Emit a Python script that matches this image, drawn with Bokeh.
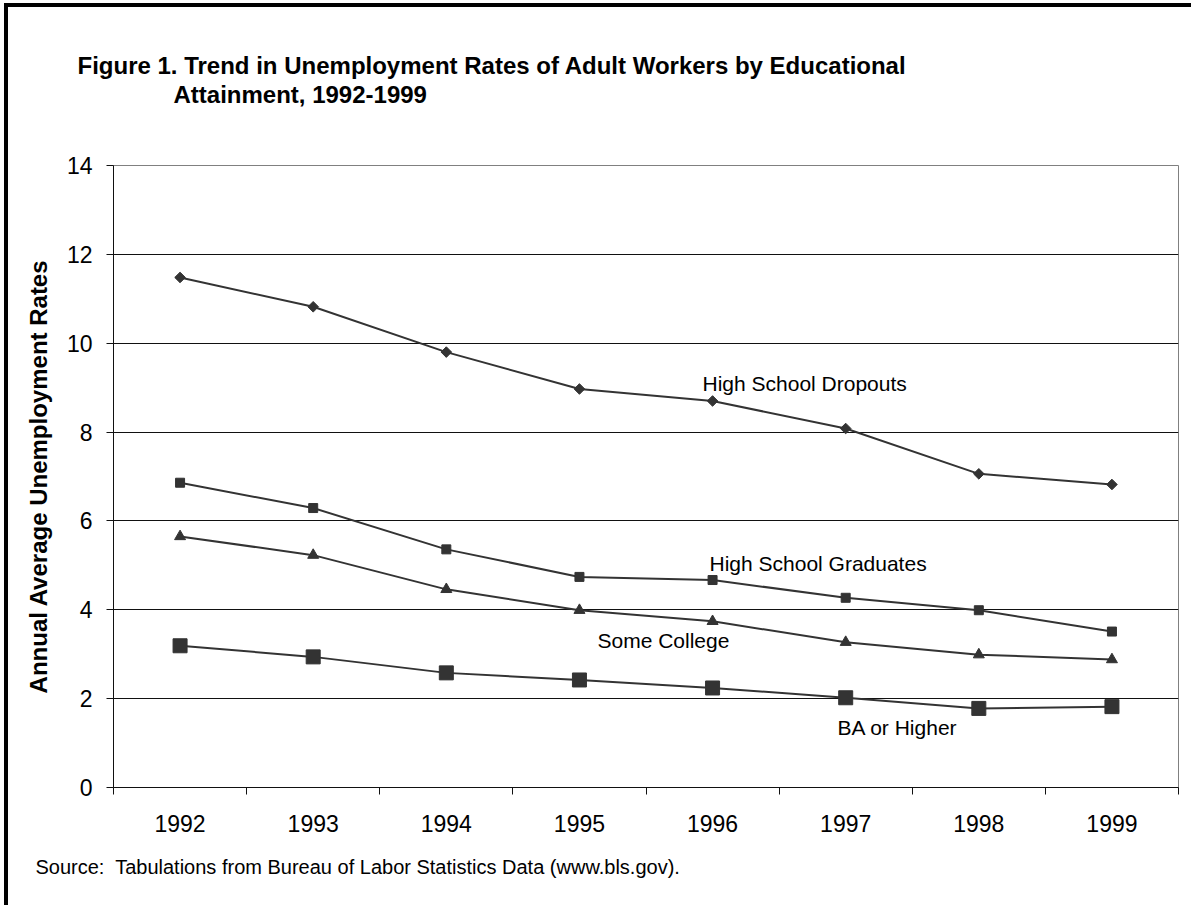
from bokeh.plotting import figure
from bokeh.models import Range1d, FixedTicker, Label, Title
from bokeh.embed import file_html
from bokeh.resources import INLINE

# ---- data ----
years = [1992, 1993, 1994, 1995, 1996, 1997, 1998, 1999]
dropouts = [11.48, 10.82, 9.80, 8.97, 8.70, 8.08, 7.06, 6.82]
hs_grads = [6.86, 6.29, 5.36, 4.74, 4.67, 4.27, 3.99, 3.51]
some_college = [5.65, 5.23, 4.46, 3.99, 3.74, 3.27, 2.99, 2.88]
ba_higher = [3.19, 2.94, 2.58, 2.42, 2.24, 2.02, 1.78, 1.82]
y_ticks = [0, 2, 4, 6, 8, 10, 12, 14]

FONT = "Liberation Sans"
INK = "#333333"

W, H = 1191, 905
FL, FR, FT, FB = 113, 1178, 165, 787   # frame edges in pixels
NX = len(years)
YMAX = 14

def px_x(px):
    return (px - FL) / (FR - FL) * NX

def px_y(py):
    return (FB - py) / (FB - FT) * YMAX

centers = [i + 0.5 for i in range(NX)]
bounds = [float(i) for i in range(NX + 1)]

p = figure(width=W, height=H, output_backend="svg", toolbar_location=None,
           x_range=Range1d(0, NX), y_range=Range1d(0, YMAX),
           min_border_left=FL, min_border_right=W - FR,
           min_border_top=FT, min_border_bottom=H - FB)
p.background_fill_color = "white"
p.border_fill_color = None
p.outline_line_color = "#808080"
p.outline_line_width = 1
# outer frame of the figure: only its top and left edges are visible
p.styles = {"box-shadow": "inset 4px 3px 0 0 white, inset 8px 7px 0 0 black",
            "background-color": "white"}

# grid
p.xgrid.visible = False
p.ygrid.ticker = FixedTicker(ticks=y_ticks)
p.ygrid.grid_line_color = "#111111"
p.ygrid.grid_line_width = 1

# y axis
p.yaxis.ticker = FixedTicker(ticks=y_ticks)
p.yaxis.axis_line_color = "#111111"
p.yaxis.major_tick_line_color = "#111111"
p.yaxis.major_tick_out = 7
p.yaxis.major_tick_in = 0
p.yaxis.minor_tick_line_color = None
p.yaxis.major_label_text_font = FONT
p.yaxis.major_label_text_font_size = "23px"
p.yaxis.major_label_text_color = "black"
p.yaxis.major_label_standoff = 14
p.yaxis.axis_label = "Annual Average Unemployment Rates"
p.yaxis.axis_label_text_font = FONT
p.yaxis.axis_label_text_font_size = "24px"
p.yaxis.axis_label_text_font_style = "bold"
p.yaxis.axis_label_text_color = "black"
p.yaxis.axis_label_standoff = 12

# x axis: labels at category centres, ticks at boundaries
p.xaxis.ticker = FixedTicker(ticks=centers, minor_ticks=bounds)
p.xaxis.major_label_overrides = {c: str(y) for c, y in zip(centers, years)}
p.xaxis.axis_line_color = "#111111"
p.xaxis.major_tick_out = 0
p.xaxis.major_tick_in = 0
p.xaxis.minor_tick_out = 7
p.xaxis.minor_tick_in = 0
p.xaxis.minor_tick_line_color = "#111111"
p.xaxis.major_label_text_font = FONT
p.xaxis.major_label_text_font_size = "23px"
p.xaxis.major_label_text_color = "black"
p.xaxis.major_label_standoff = 20

# series
series = [
    (dropouts, dict(marker="square", size=7.5, angle=0.785398)),
    (hs_grads, dict(marker="square", size=9)),
    (some_college, dict(marker="triangle", size=11)),
    (ba_higher, dict(marker="square", size=14)),
]
for vals, mk in series:
    p.line(centers, vals, line_color=INK, line_width=2)
    p.scatter(centers, vals, fill_color=INK, line_color=INK, **mk)

# series labels
def add_text(txt, px, py, size):
    p.add_layout(Label(x=px_x(px), y=px_y(py), text=txt, text_font=FONT,
                       text_font_size=size, text_color="black",
                       text_align="left", text_baseline="alphabetic"))

add_text("High School Dropouts", 702, 383, "21px")
add_text("High School Graduates", 709, 563, "21px")
add_text("Some College", 597, 640, "21px")
add_text("BA or Higher", 837, 727, "21px")

# title (two lines, second one indented); first added sits nearest the frame
p.add_layout(Title(text="Attainment, 1992-1999", align="left", offset=173 - FL,
                   standoff=0, padding=dict(top=0, right=0, bottom=58, left=0),
                   text_font=FONT, text_font_size="24px",
                   text_font_style="bold", text_color="black"), "above")
p.add_layout(Title(text="Figure 1. Trend in Unemployment Rates of Adult Workers by Educational",
                   align="left", offset=77 - FL, standoff=0, text_font=FONT,
                   text_font_size="24px", text_font_style="bold",
                   text_color="black"), "above")

# source note
p.add_layout(Title(text="Source:\u00a0 Tabulations from Bureau of Labor Statistics Data (www.bls.gov).",
                   align="left", offset=35 - FL, standoff=39, text_font=FONT,
                   text_font_size="20px", text_font_style="normal",
                   text_color="black"), "below")

open("out.html", "w").write(file_html(p, INLINE))
